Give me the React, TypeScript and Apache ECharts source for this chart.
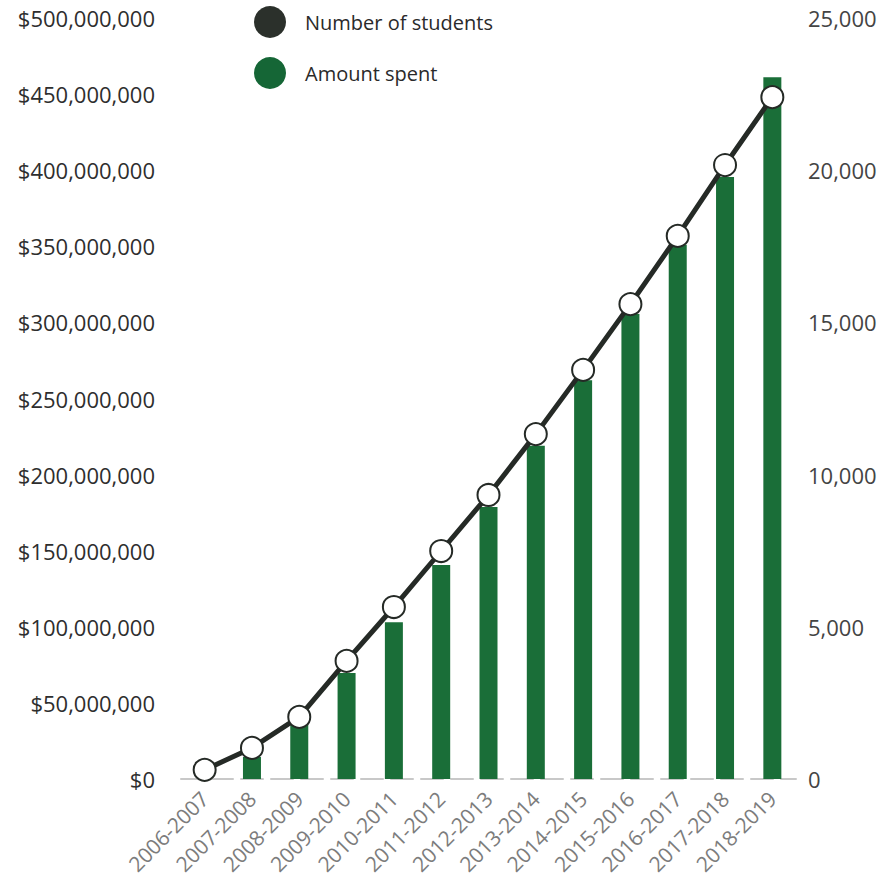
import React, { useEffect, useRef } from "react";
import * as echarts from "echarts";

const categories = [
  "2006-2007", "2007-2008", "2008-2009", "2009-2010", "2010-2011", "2011-2012", "2012-2013",
  "2013-2014", "2014-2015", "2015-2016", "2016-2017", "2017-2018", "2018-2019",
];
const amountSpent = [
  0, 14500000, 36800000, 69600000, 103000000, 140600000, 178700000,
  219000000, 262000000, 305500000, 351000000, 395500000, 461000000,
];
const students = [
  300, 1020, 2040, 3880, 5650, 7490, 9330, 11330, 13440, 15600, 17840, 20170, 22400,
];
const leftTicks = [0, 500000000, 50000000];
const rightTicks = [0, 25000, 5000];

const FONT = "'Open Sans', 'Noto Sans', sans-serif";

export default function App() {
  const ref = useRef<HTMLDivElement>(null);
  useEffect(() => {
    if (!ref.current) return;
    const chart = echarts.init(ref.current, null, { renderer: "svg" });
    chart.setOption({
      animation: false,
      backgroundColor: "#ffffff",
      textStyle: { fontFamily: FONT },
      legend: {
        orient: "vertical",
        left: 254,
        top: 6,
        padding: 0,
        icon: "circle",
        itemWidth: 32,
        itemHeight: 32,
        itemGap: 19,
        data: [
          { name: "Number of students", itemStyle: { color: "#2b302b", borderWidth: 0 } },
          { name: "Amount spent", itemStyle: { color: "#156636", borderWidth: 0 } },
        ],
        textStyle: { fontSize: 20, color: "#2a2a2a", fontFamily: FONT, padding: [0, 0, 0, 14] },
      },
      grid: { left: 181, right: 99, top: 18, bottom: 114, containLabel: false },
      xAxis: {
        type: "category",
        data: categories,
        axisTick: { show: false },
        axisLine: { show: true, lineStyle: { color: "#c8c8c8", width: 2, type: [22, 8] } },
        axisLabel: {
          rotate: 45,
          color: "#7c7c7c",
          fontSize: 21,
          fontFamily: FONT,
          interval: 0,
          margin: 16,
        },
      },
      yAxis: [
        {
          type: "value",
          min: leftTicks[0],
          max: leftTicks[1],
          interval: leftTicks[2],
          splitLine: { show: false },
          axisLine: { show: false },
          axisTick: { show: false },
          axisLabel: {
            color: "#2e2e2e",
            fontSize: 22,
            fontFamily: FONT,
            margin: 26,
            formatter: (v: number) => "$" + v.toLocaleString("en-US"),
          },
        },
        {
          type: "value",
          min: rightTicks[0],
          max: rightTicks[1],
          interval: rightTicks[2],
          position: "right",
          splitLine: { show: false },
          axisLine: { show: false },
          axisTick: { show: false },
          axisLabel: {
            color: "#444444",
            fontSize: 22,
            fontFamily: FONT,
            margin: 12,
            formatter: (v: number) => v.toLocaleString("en-US"),
          },
        },
      ],
      series: [
        {
          name: "Amount spent",
          type: "bar",
          yAxisIndex: 0,
          data: amountSpent,
          barWidth: 18,
          itemStyle: { color: "#1a6e38" },
          z: 1,
        },
        {
          name: "Number of students",
          type: "line",
          yAxisIndex: 1,
          data: students,
          symbol: "circle",
          symbolSize: 22,
          lineStyle: { color: "#252a26", width: 5 },
          itemStyle: { color: "#ffffff", borderColor: "#252a26", borderWidth: 2 },
          z: 3,
        },
      ],
    });
    return () => chart.dispose();
  }, []);
  return <div ref={ref} style={{ width: 895, height: 893, position: "absolute", left: 0, top: 0 }} />;
}
